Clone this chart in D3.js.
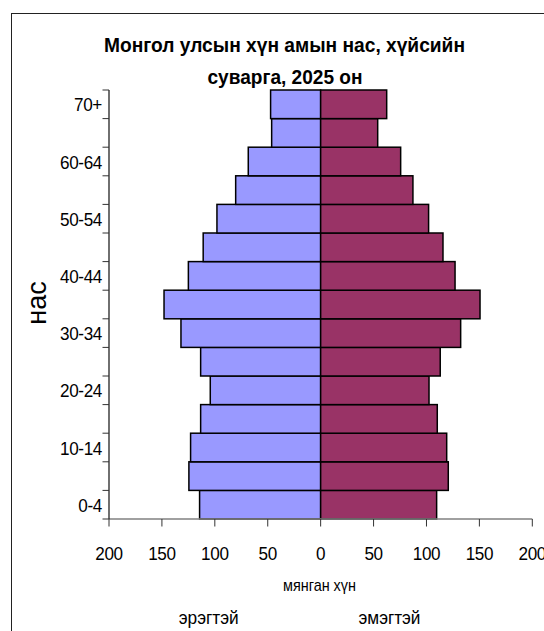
<!DOCTYPE html>
<html>
<head>
<meta charset="utf-8">
<script src="https://cdn.jsdelivr.net/npm/d3@7/dist/d3.min.js"></script>
<style>
  html, body { margin: 0; padding: 0; background: #fff; }
  svg text { font-family: "Liberation Sans", Arial, sans-serif; fill: #000; }
</style>
</head>
<body>
<svg id="chart" width="544" height="631"></svg>
<script>
// ---- data (thousand persons) ----
const ageGroups = ["0-4","5-9","10-14","15-19","20-24","25-29","30-34","35-39","40-44","45-49","50-54","55-59","60-64","65-69","70+"];
const male   = [114.4,124.5,122.9,113.4,104.3,113.4,132,148,125,111,98,80.3,68.4,46.3,47.3];
const female = [109.6,120.6,119.1,110.2,102.4,113,132.3,150.6,127,115.6,102,87.2,75.6,53.9,62.4];
const xTickValues = [-200,-150,-100,-50,0,50,100,150,200];
const titleLines = ["Монгол улсын хүн амын нас, хүйсийн", "суварга, 2025 он"];
const yTitle = "нас";
const xTitle = "мянган хүн";
const maleLabel = "эрэгтэй";
const femaleLabel = "эмэгтэй";

const svg = d3.select("#chart");

// squeeze glyphs horizontally to mimic the condensed look of the original
function squeeze(sel, k) {
  sel.each(function () {
    const w = this.getComputedTextLength();
    d3.select(this).attr("textLength", w * k).attr("lengthAdjust", "spacingAndGlyphs");
  });
}

// outer frame
svg.append("rect").attr("x", 11.5).attr("y", 13.5).attr("width", 700).attr("height", 800)
  .attr("fill", "none").attr("stroke", "#222").attr("stroke-width", 1);

const x = d3.scaleLinear().domain([-200, 200]).range([109, 532.3]);
const y = d3.scaleBand().domain(ageGroups.slice().reverse()).range([90, 519]).padding(0);
const bw = y.bandwidth();

// bars
const rows = ageGroups.map((g, i) => ({ g, m: male[i], f: female[i] }));
svg.append("g").selectAll("rect").data(rows).join("rect")
  .attr("x", d => x(-d.m)).attr("y", d => y(d.g))
  .attr("width", d => x(0) - x(-d.m)).attr("height", bw)
  .attr("fill", "#9999FF").attr("stroke", "#000").attr("stroke-width", 1.5);
svg.append("g").selectAll("rect").data(rows).join("rect")
  .attr("x", x(0)).attr("y", d => y(d.g))
  .attr("width", d => x(d.f) - x(0)).attr("height", bw)
  .attr("fill", "#993366").attr("stroke", "#000").attr("stroke-width", 1.5);

// x axis
svg.append("line").attr("x1", x(-200)).attr("x2", x(200)).attr("y1", 519).attr("y2", 519)
  .attr("stroke", "#808080").attr("stroke-width", 1.3);
const xa = svg.append("g");
xa.selectAll("line").data(xTickValues).join("line")
  .attr("x1", d => x(d)).attr("x2", d => x(d)).attr("y1", 519).attr("y2", 526.5)
  .attr("stroke", "#333").attr("stroke-width", 1);
xa.selectAll("text").data(xTickValues).join("text")
  .attr("x", d => x(d)).attr("y", 560).attr("text-anchor", "middle")
  .attr("font-size", 19).attr("letter-spacing", "-0.4px")
  .text(d => Math.abs(d))
  .call(squeeze, 0.9);

// y axis
svg.append("line").attr("x1", 109).attr("x2", 109).attr("y1", 90).attr("y2", 519)
  .attr("stroke", "#222").attr("stroke-width", 1.3);
const bounds = ageGroups.map(g => y(g)).concat([y(ageGroups[0]) + bw]);
svg.append("g").selectAll("line").data(bounds).join("line")
  .attr("x1", 102.5).attr("x2", 109).attr("y1", d => d).attr("y2", d => d)
  .attr("stroke", "#333").attr("stroke-width", 1);
svg.append("g").selectAll("text").data(ageGroups.filter((g, i) => i % 2 === 0)).join("text")
  .attr("x", 102).attr("y", d => y(d) + bw / 2 + 7).attr("text-anchor", "end")
  .attr("font-size", 19).attr("letter-spacing", "-0.4px")
  .text(d => d)
  .call(squeeze, 0.9);

// titles
svg.append("text").attr("x", 284.5).attr("y", 51.5).attr("text-anchor", "middle")
  .attr("font-size", 20.5).attr("font-weight", "bold")
  .attr("textLength", 361).attr("lengthAdjust", "spacingAndGlyphs").text(titleLines[0]);
svg.append("text").attr("x", 285).attr("y", 83.5).attr("text-anchor", "middle")
  .attr("font-size", 20.5).attr("font-weight", "bold")
  .attr("textLength", 155).attr("lengthAdjust", "spacingAndGlyphs").text(titleLines[1]);

svg.append("text").attr("transform", "translate(46,303) rotate(-90)").attr("text-anchor", "middle")
  .attr("font-size", 27).text(yTitle);

svg.append("text").attr("x", 319.5).attr("y", 590.5).attr("text-anchor", "middle")
  .attr("font-size", 17).attr("textLength", 73).attr("lengthAdjust", "spacingAndGlyphs").text(xTitle);
svg.append("text").attr("x", 208.7).attr("y", 623.5).attr("text-anchor", "middle")
  .attr("font-size", 19).attr("textLength", 60).attr("lengthAdjust", "spacingAndGlyphs").text(maleLabel);
svg.append("text").attr("x", 389.5).attr("y", 623.5).attr("text-anchor", "middle")
  .attr("font-size", 19).attr("textLength", 62).attr("lengthAdjust", "spacingAndGlyphs").text(femaleLabel);
</script>
</body>
</html>
